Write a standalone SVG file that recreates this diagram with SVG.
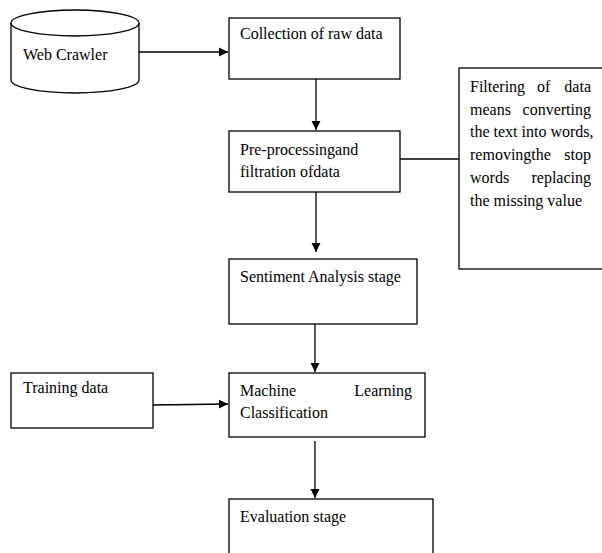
<svg xmlns="http://www.w3.org/2000/svg" width="602" height="553" viewBox="0 0 602 553">
<style>
.b{fill:#fff;stroke:#000;stroke-width:1.3}
.l{fill:none;stroke:#000;stroke-width:1.3}
text{font-family:"Liberation Serif","Times New Roman",serif;font-size:16px;fill:#000}
.e{text-anchor:end}
</style>
<defs>
<marker id="ah" markerWidth="10" markerHeight="10" refX="9" refY="5" orient="auto" markerUnits="userSpaceOnUse">
<path d="M0,0.5 L9,5 L0,9.5 Z" fill="#000"/>
</marker>
</defs>
<rect width="602" height="553" fill="#fff"/>
<g id="connectors">
<line class="l" x1="139" y1="52" x2="228" y2="52" marker-end="url(#ah)"/>
<line class="l" x1="316" y1="79" x2="316" y2="130" marker-end="url(#ah)"/>
<line class="l" x1="400" y1="159" x2="459" y2="159"/>
<line class="l" x1="316" y1="192" x2="316" y2="252" marker-end="url(#ah)"/>
<line class="l" x1="315" y1="324" x2="315" y2="372" marker-end="url(#ah)"/>
<line class="l" x1="153" y1="405" x2="228" y2="404" marker-end="url(#ah)"/>
<line class="l" x1="315" y1="441" x2="315" y2="498" marker-end="url(#ah)"/>
</g>
<g id="webcrawler">
<path class="b" d="M11,23 L11,80 A64,13 0 0 0 139,80 L139,23"/>
<ellipse class="b" cx="75" cy="23" rx="64" ry="13"/>
<text x="23" y="60">Web Crawler</text>
</g>
<g id="collection">
<rect class="b" x="229" y="18" width="171" height="61"/>
<text x="240" y="39">Collection of raw data</text>
</g>
<g id="preprocessing">
<rect class="b" x="229" y="131" width="171" height="61"/>
<text x="240" y="155">Pre-processingand</text>
<text x="240" y="177">filtration ofdata</text>
</g>
<g id="filtering">
<rect class="b" x="459" y="68" width="150" height="201"/>
<text x="470" y="92">Filtering</text><text x="537" y="92">of</text><text class="e" x="591" y="92">data</text>
<text x="470" y="115">means</text><text class="e" x="591" y="115">converting</text>
<text x="470" y="137">the text into words,</text>
<text x="470" y="160">removingthe</text><text class="e" x="591" y="160">stop</text>
<text x="470" y="183">words</text><text class="e" x="591" y="183">replacing</text>
<text x="470" y="206">the missing value</text>
</g>
<g id="sentiment">
<rect class="b" x="229" y="259" width="188" height="65"/>
<text x="240" y="282">Sentiment Analysis stage</text>
</g>
<g id="training">
<rect class="b" x="11" y="373" width="142" height="55"/>
<text x="23" y="393">Training data</text>
</g>
<g id="ml">
<rect class="b" x="229" y="373" width="196" height="64"/>
<text x="240" y="396">Machine</text><text class="e" x="412" y="396">Learning</text>
<text x="240" y="418">Classification</text>
</g>
<g id="evaluation">
<rect class="b" x="229" y="499" width="204" height="70"/>
<text x="240" y="522">Evaluation stage</text>
</g>
</svg>
